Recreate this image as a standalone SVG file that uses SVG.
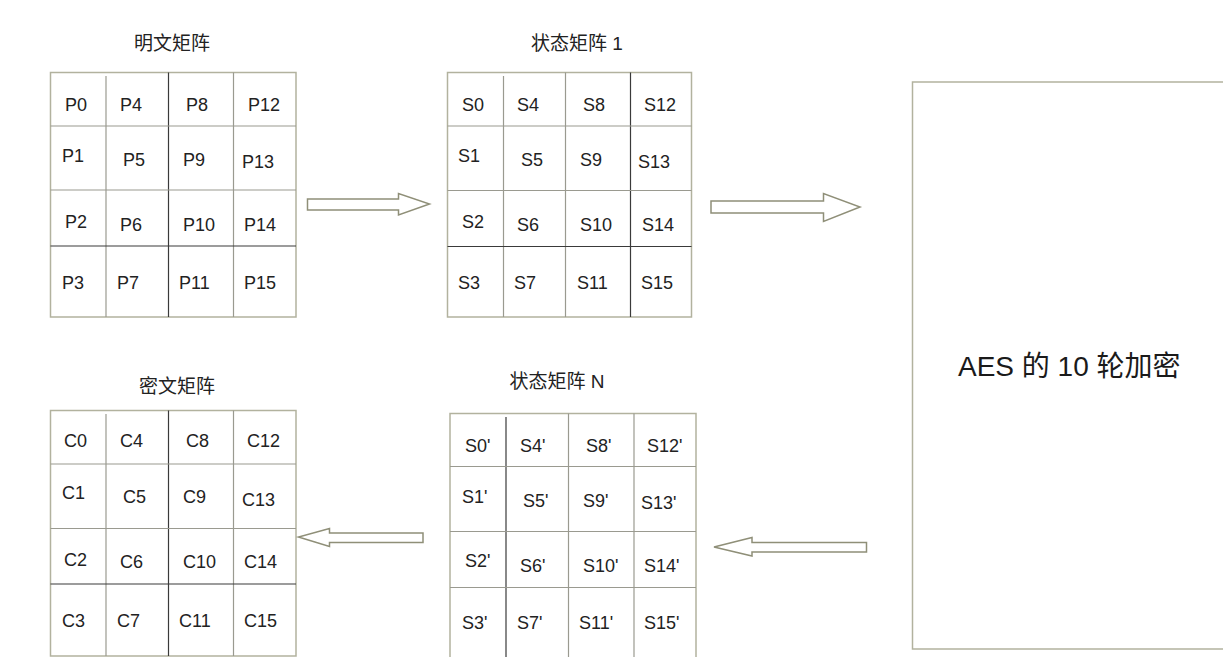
<svg xmlns="http://www.w3.org/2000/svg" width="1223" height="657" viewBox="0 0 1223 657">
<style>
  .bg{fill:#ffffff}
  .outer{fill:#ffffff;stroke:#b2b29e;stroke-width:1.5}
  .ld{stroke:#3a3a3a;stroke-width:1.2;fill:none}
  .lg{stroke:#9a9a90;stroke-width:1.2;fill:none}
  .title{font-family:"Liberation Sans","Noto Sans CJK SC",sans-serif;font-size:19px;fill:#222;text-anchor:middle}
  .cell{font-family:"Liberation Sans","Noto Sans CJK SC",sans-serif;font-size:18px;fill:#222}
  .big{font-family:"Liberation Sans","Noto Sans CJK SC",sans-serif;font-size:28px;fill:#1a1a1a}
  .arrow{fill:#ffffff;stroke:#8f8f78;stroke-width:1.5;stroke-linejoin:miter}
</style>
<rect class="bg" x="0" y="0" width="1223" height="657"/>

<g id="plaintext">
  <text class="title" x="172" y="50">明文矩阵</text>
  <rect class="outer" x="50.5" y="72.5" width="245.5" height="244.5"/>
  <line class="lg" x1="106" y1="76" x2="106" y2="317"/>
  <line class="ld" x1="168.5" y1="72.5" x2="168.5" y2="317"/>
  <line class="lg" x1="233.5" y1="72.5" x2="233.5" y2="317"/>
  <line class="lg" x1="50.5" y1="126" x2="296" y2="126"/>
  <line class="lg" x1="50.5" y1="190" x2="296" y2="190"/>
  <line class="ld" x1="50.5" y1="246" x2="296" y2="246"/>
  <text class="cell" x="65" y="111">P0</text>
  <text class="cell" x="120" y="111">P4</text>
  <text class="cell" x="186" y="111">P8</text>
  <text class="cell" x="248" y="111">P12</text>
  <text class="cell" x="62" y="162">P1</text>
  <text class="cell" x="123" y="166">P5</text>
  <text class="cell" x="183" y="166">P9</text>
  <text class="cell" x="242" y="168">P13</text>
  <text class="cell" x="65" y="228">P2</text>
  <text class="cell" x="120" y="231">P6</text>
  <text class="cell" x="183" y="231">P10</text>
  <text class="cell" x="244" y="231">P14</text>
  <text class="cell" x="62" y="289">P3</text>
  <text class="cell" x="117" y="289">P7</text>
  <text class="cell" x="179" y="289">P11</text>
  <text class="cell" x="244" y="289">P15</text>
</g>

<g id="state1">
  <text class="title" x="577" y="50">状态矩阵 1</text>
  <rect class="outer" x="447.5" y="72.5" width="244" height="244.5"/>
  <line class="lg" x1="503.5" y1="76" x2="503.5" y2="317"/>
  <line class="lg" x1="565.5" y1="72.5" x2="565.5" y2="317"/>
  <line class="ld" x1="630.5" y1="72.5" x2="630.5" y2="317"/>
  <line class="lg" x1="447.5" y1="126" x2="691.5" y2="126"/>
  <line class="lg" x1="447.5" y1="190.5" x2="691.5" y2="190.5"/>
  <line class="ld" x1="447.5" y1="246.5" x2="691.5" y2="246.5"/>
  <text class="cell" x="462" y="111">S0</text>
  <text class="cell" x="517" y="111">S4</text>
  <text class="cell" x="583" y="111">S8</text>
  <text class="cell" x="644" y="111">S12</text>
  <text class="cell" x="458" y="162">S1</text>
  <text class="cell" x="521" y="166">S5</text>
  <text class="cell" x="580" y="166">S9</text>
  <text class="cell" x="638" y="168">S13</text>
  <text class="cell" x="462" y="228">S2</text>
  <text class="cell" x="517" y="231">S6</text>
  <text class="cell" x="580" y="231">S10</text>
  <text class="cell" x="642" y="231">S14</text>
  <text class="cell" x="458" y="289">S3</text>
  <text class="cell" x="514" y="289">S7</text>
  <text class="cell" x="577" y="289">S11</text>
  <text class="cell" x="641" y="289">S15</text>
</g>

<g id="aes-rounds">
  <rect class="outer" x="912.5" y="82" width="330" height="567"/>
  <text class="big" x="958" y="376">AES 的 10 轮加密</text>
</g>

<g id="stateN">
  <text class="title" x="557" y="388">状态矩阵 N</text>
  <rect class="outer" x="450" y="413.5" width="246" height="260"/>
  <line class="ld" x1="506" y1="417" x2="506" y2="660"/>
  <line class="lg" x1="568.5" y1="413.5" x2="568.5" y2="660"/>
  <line class="lg" x1="634" y1="413.5" x2="634" y2="660"/>
  <line class="lg" x1="450" y1="466.5" x2="696" y2="466.5"/>
  <line class="lg" x1="450" y1="531.5" x2="696" y2="531.5"/>
  <line class="lg" x1="450" y1="587.5" x2="696" y2="587.5"/>
  <text class="cell" x="465" y="452">S0'</text>
  <text class="cell" x="520" y="452">S4'</text>
  <text class="cell" x="586" y="452">S8'</text>
  <text class="cell" x="647" y="452">S12'</text>
  <text class="cell" x="462" y="503">S1'</text>
  <text class="cell" x="523" y="507">S5'</text>
  <text class="cell" x="583" y="507">S9'</text>
  <text class="cell" x="641" y="509">S13'</text>
  <text class="cell" x="465" y="567">S2'</text>
  <text class="cell" x="520" y="572">S6'</text>
  <text class="cell" x="583" y="572">S10'</text>
  <text class="cell" x="644" y="572">S14'</text>
  <text class="cell" x="462" y="629">S3'</text>
  <text class="cell" x="517" y="629">S7'</text>
  <text class="cell" x="579" y="629">S11'</text>
  <text class="cell" x="644" y="629">S15'</text>
</g>

<g id="ciphertext">
  <text class="title" x="177" y="393">密文矩阵</text>
  <rect class="outer" x="50.5" y="410.5" width="245.5" height="245.5"/>
  <line class="lg" x1="106" y1="414" x2="106" y2="656"/>
  <line class="ld" x1="168.5" y1="410.5" x2="168.5" y2="656"/>
  <line class="lg" x1="233.5" y1="410.5" x2="233.5" y2="656"/>
  <line class="lg" x1="50.5" y1="464" x2="296" y2="464"/>
  <line class="lg" x1="50.5" y1="528.5" x2="296" y2="528.5"/>
  <line class="ld" x1="50.5" y1="584" x2="296" y2="584"/>
  <text class="cell" x="64" y="447">C0</text>
  <text class="cell" x="120" y="447">C4</text>
  <text class="cell" x="186" y="447">C8</text>
  <text class="cell" x="247" y="447">C12</text>
  <text class="cell" x="62" y="499">C1</text>
  <text class="cell" x="123" y="503">C5</text>
  <text class="cell" x="183" y="503">C9</text>
  <text class="cell" x="242" y="506">C13</text>
  <text class="cell" x="64" y="566">C2</text>
  <text class="cell" x="120" y="568">C6</text>
  <text class="cell" x="183" y="568">C10</text>
  <text class="cell" x="244" y="568">C14</text>
  <text class="cell" x="62" y="627">C3</text>
  <text class="cell" x="117" y="627">C7</text>
  <text class="cell" x="179" y="627">C11</text>
  <text class="cell" x="244" y="627">C15</text>
</g>

<g id="connectors">
  <polygon class="arrow" points="307.5,199 398.5,199 398.5,193.5 429.5,204 398.5,215 398.5,210 307.5,210"/>
  <polygon class="arrow" points="711,201 823.5,201 823.5,193.5 860,207 823.5,221.5 823.5,213 711,213"/>
  <polygon class="arrow" points="423,533 329.5,533 329.5,528.5 298.5,537 329.5,546.5 329.5,542.5 423,542.5"/>
  <polygon class="arrow" points="866.5,542.5 752,542.5 752,537.5 714,547 752,556 752,552 866.5,552"/>
</g>
</svg>
